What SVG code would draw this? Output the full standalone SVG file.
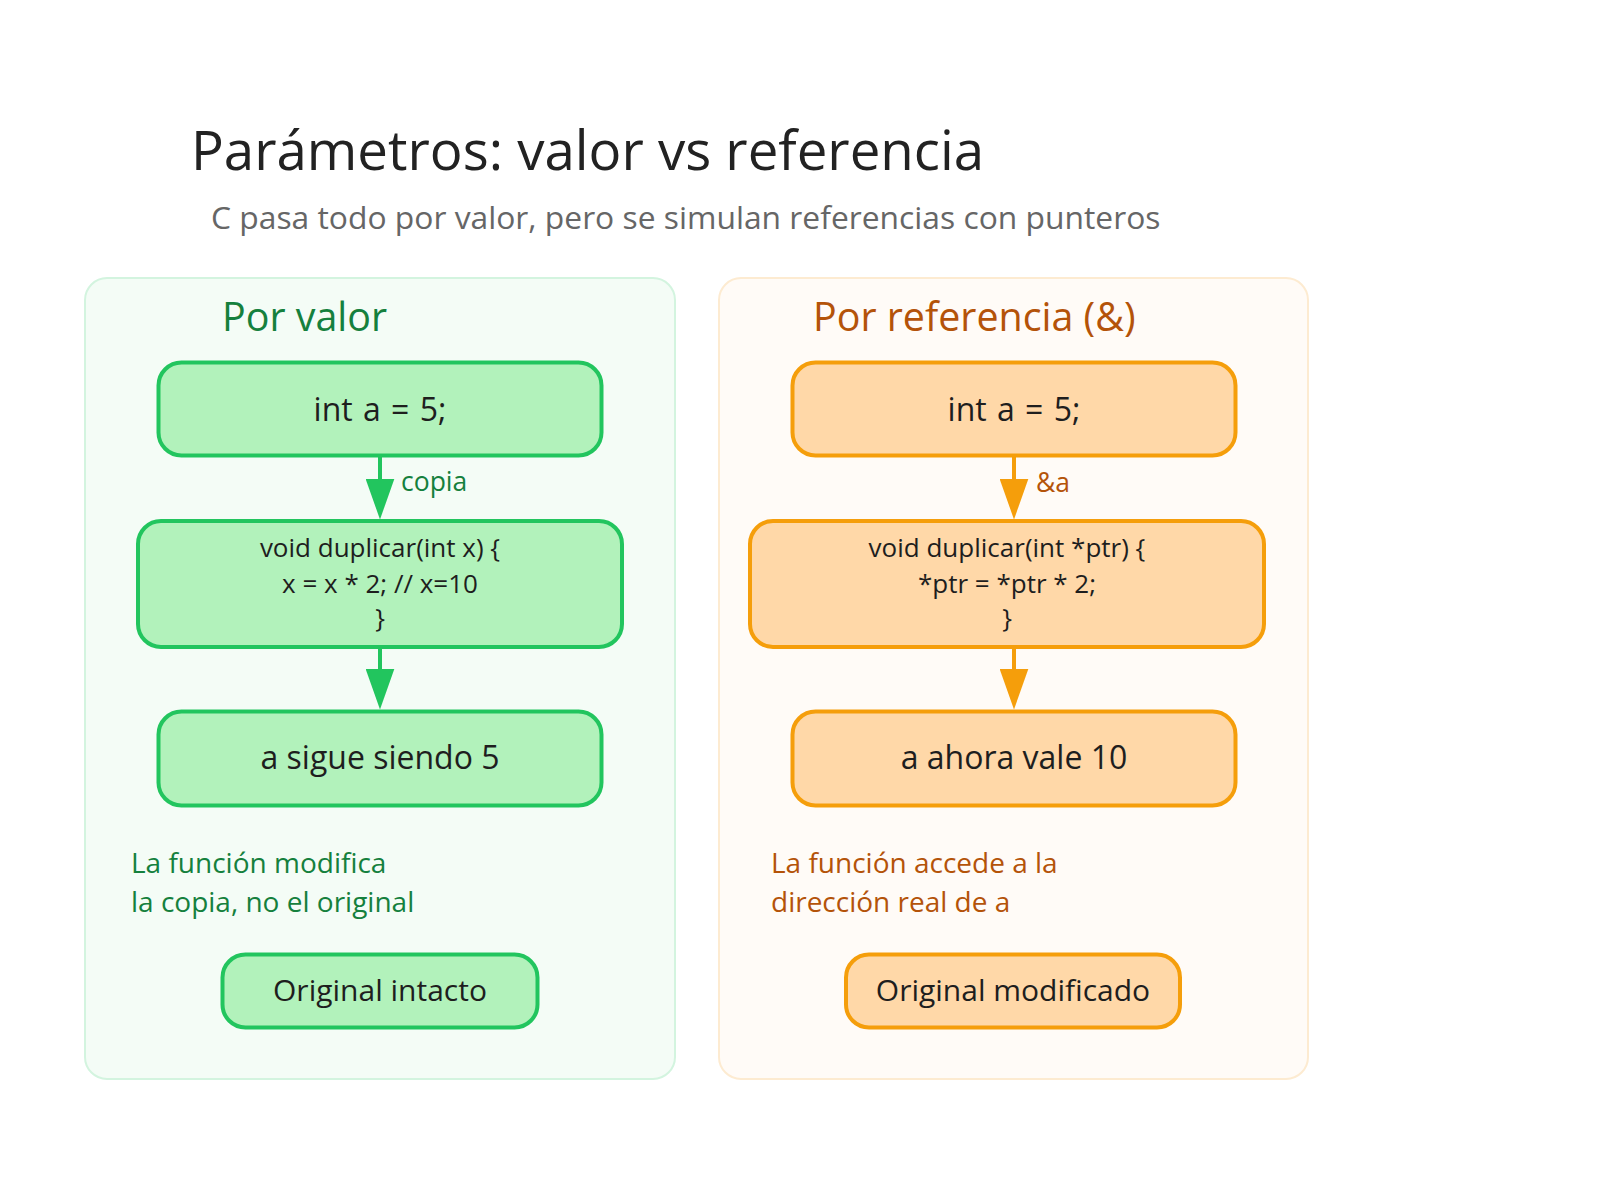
<svg xmlns="http://www.w3.org/2000/svg" width="1600" height="1200" viewBox="0 0 1600 1200">
  <defs>
    <style>
      text { font-family: "Open Sans", "Noto Sans", "Liberation Sans", sans-serif; }
      .title { font-size: 54.6px; fill: #222222; }
      .subtitle { font-size: 31.8px; fill: #666666; }
      .panel-g { fill: #f4fcf6; stroke: #d3f4df; stroke-width: 2; }
      .panel-o { fill: #fffbf7; stroke: #fdebd1; stroke-width: 2; }
      .head-g { font-size: 39.4px; fill: #15803d; }
      .head-o { font-size: 39.4px; fill: #b45309; }
      .node-g { fill: #b2f2bb; stroke: #22c55e; stroke-width: 4; }
      .node-o { fill: #ffd8a8; stroke: #f59e0b; stroke-width: 4; }
      .big { font-size: 32px; fill: #1e1e1e; text-anchor: middle; }
      .wide { word-spacing: 2px; }
      .code { font-size: 26px; fill: #1e1e1e; text-anchor: middle; }
      .end { font-size: 30px; fill: #1e1e1e; text-anchor: middle; }
      .lbl-g { font-size: 26.5px; fill: #15803d; }
      .lbl-o { font-size: 26.5px; fill: #b45309; }
      .note-g { font-size: 28px; fill: #15803d; }
      .note-o { font-size: 28px; fill: #b45309; }
      .edge-g { stroke: #22c55e; stroke-width: 4; fill: none; }
      .edge-o { stroke: #f59e0b; stroke-width: 4; fill: none; }
    </style>
    <marker id="arr-g" viewBox="0 0 41 29" refX="29" refY="14.5" markerWidth="41" markerHeight="29" markerUnits="userSpaceOnUse" orient="auto">
      <path d="M0,0 L41,14.5 L0,29 Z" fill="#22c55e"/>
    </marker>
    <marker id="arr-o" viewBox="0 0 41 29" refX="29" refY="14.5" markerWidth="41" markerHeight="29" markerUnits="userSpaceOnUse" orient="auto">
      <path d="M0,0 L41,14.5 L0,29 Z" fill="#f59e0b"/>
    </marker>
  </defs>

  <rect width="1600" height="1200" fill="#ffffff"/>

  <g id="header">
    <text class="title" x="191" y="170">Parámetros: valor vs referencia</text>
    <text class="subtitle" x="211" y="229">C pasa todo por valor, pero se simulan referencias con punteros</text>
  </g>

  <g id="panel-valor">
    <rect class="panel-g" x="85" y="278" width="590" height="801" rx="22"/>
    <text class="head-g" x="222" y="331">Por valor</text>
  </g>

  <g id="panel-referencia">
    <rect class="panel-o" x="719" y="278" width="589" height="801" rx="22"/>
    <text class="head-o" x="813" y="331">Por referencia (&amp;)</text>
  </g>

  <g id="connectors">
    <line class="edge-g" x1="380" y1="457" x2="380" y2="507.5" marker-end="url(#arr-g)"/>
    <line class="edge-g" x1="380" y1="648" x2="380" y2="697.5" marker-end="url(#arr-g)"/>
    <line class="edge-o" x1="1014" y1="457" x2="1014" y2="507.5" marker-end="url(#arr-o)"/>
    <line class="edge-o" x1="1014" y1="648" x2="1014" y2="697.5" marker-end="url(#arr-o)"/>
    <text class="lbl-g" x="401" y="491">copia</text>
    <text class="lbl-o" x="1036" y="492">&amp;a</text>
  </g>

  <g id="v-int">
    <rect class="node-g" x="158.5" y="362.5" width="443" height="93" rx="23"/>
    <text class="big wide" x="380" y="421">int a = 5;</text>
  </g>
  <g id="v-func">
    <rect class="node-g" x="138" y="521" width="484" height="126" rx="23"/>
    <text class="code" x="380" y="557">void duplicar(int x) {</text>
    <text class="code" x="380" y="593">x = x * 2; // x=10</text>
    <text class="code" x="380" y="627">}</text>
  </g>
  <g id="v-result">
    <rect class="node-g" x="158.5" y="711.5" width="443" height="94" rx="23"/>
    <text class="big" x="380" y="769">a sigue siendo 5</text>
  </g>
  <g id="v-note">
    <text class="note-g" x="131" y="873">La función modifica</text>
    <text class="note-g" x="131" y="912">la copia, no el original</text>
  </g>
  <g id="v-end">
    <rect class="node-g" x="222.5" y="954.5" width="315" height="73" rx="23"/>
    <text class="end" x="380" y="1001">Original intacto</text>
  </g>

  <g id="r-int">
    <rect class="node-o" x="792.5" y="362.5" width="443" height="93" rx="23"/>
    <text class="big wide" x="1014" y="421">int a = 5;</text>
  </g>
  <g id="r-func">
    <rect class="node-o" x="750" y="521" width="514" height="126" rx="23"/>
    <text class="code" x="1007" y="557">void duplicar(int *ptr) {</text>
    <text class="code" x="1007" y="593">*ptr = *ptr * 2;</text>
    <text class="code" x="1007" y="627">}</text>
  </g>
  <g id="r-result">
    <rect class="node-o" x="792.5" y="711.5" width="443" height="94" rx="23"/>
    <text class="big" x="1014" y="769">a ahora vale 10</text>
  </g>
  <g id="r-note">
    <text class="note-o" x="771" y="873">La función accede a la</text>
    <text class="note-o" x="771" y="912">dirección real de a</text>
  </g>
  <g id="r-end">
    <rect class="node-o" x="846" y="954.5" width="334" height="73" rx="23"/>
    <text class="end" x="1013" y="1001">Original modificado</text>
  </g>
</svg>
